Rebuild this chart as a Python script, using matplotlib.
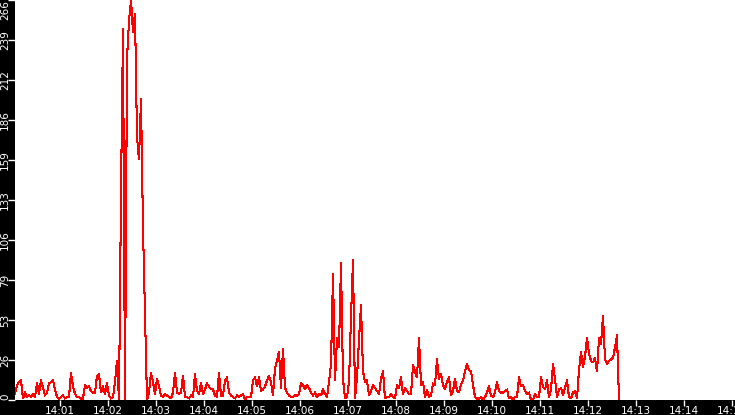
import numpy as np
import matplotlib
matplotlib.use("Agg")
import matplotlib.pyplot as plt

# one sample every 2.5 s, first one at 14:00:03.75 (seconds after 14:00)
start_sec = 3.75
step_sec = 2.5
values = [
    4, 10, 12, 13, 1, 5, 2, 3, 2, 4,
    2, 11, 4, 13, 8, 3, 5, 11, 12, 13,
    7, 2, 1, 2, 3, 1, 2, 2, 18, 9,
    4, 2, 2, 1, 1, 10, 8, 9, 6, 5,
    5, 16, 17, 5, 9, 4, 11, 3, 1, 2,
    12, 26, 0, 138, 247, 0, 227, 252, 266, 245,
    257, 175, 160, 200, 114, 57, 0, 5, 18, 12,
    4, 14, 9, 3, 2, 4, 3, 2, 1, 5,
    18, 5, 4, 5, 16, 2, 2, 1, 3, 2,
    17, 6, 4, 11, 4, 7, 11, 9, 7, 7,
    3, 2, 18, 3, 3, 13, 15, 5, 3, 2,
    1, 3, 2, 3, 4, 0, 2, 2, 2, 13,
    15, 9, 15, 6, 7, 9, 13, 16, 12, 3,
    21, 26, 32, 8, 34, 8, 5, 3, 2, 2,
    3, 3, 4, 11, 10, 7, 10, 8, 5, 3,
    5, 2, 4, 3, 7, 4, 2, 12, 24, 84,
    13, 41, 35, 91, 14, 1, 2, 12, 55, 93,
    1, 15, 40, 63, 19, 12, 13, 3, 6, 10,
    8, 6, 4, 14, 19, 1, 2, 2, 4, 2,
    1, 10, 8, 15, 4, 8, 6, 4, 4, 23,
    19, 15, 41, 10, 12, 2, 7, 2, 3, 11,
    10, 27, 14, 17, 10, 7, 12, 15, 3, 6,
    14, 6, 5, 10, 13, 19, 24, 20, 19, 10,
    2, 1, 1, 2, 0, 2, 5, 9, 3, 2,
    5, 12, 6, 5, 5, 6, 7, 1, 2, 0,
    2, 2, 15, 9, 10, 6, 4, 5, 0, 0,
    4, 2, 2, 15, 9, 7, 13, 2, 7, 24,
    14, 2, 7, 8, 3, 8, 13, 2, 1, 5,
    6, 1, 20, 32, 22, 29, 41, 31, 26, 25,
    28, 19, 41, 37, 56, 27, 24, 26, 27, 28,
    35, 43, 0,
]

x_tick_minutes = list(range(1, 16))
x_tick_labels = ["14:%02d" % m for m in x_tick_minutes]
y_max = 266
y_ticks = np.linspace(0, y_max, 11)
y_tick_labels = [str(int(v)) for v in y_ticks]

times = start_sec + step_sec * np.arange(len(values))

font = ["Liberation Sans Narrow", "DejaVu Sans"]

fig = plt.figure(figsize=(7.35, 4.15), dpi=100, facecolor="black")
ax = fig.add_axes([15 / 735, 15 / 415, 720 / 735, 400 / 415], facecolor="white")

ax.plot(times, values, color="red", lw=0.75, antialiased=False)

ax.set_xlim(start_sec, start_sec + 900)
ax.set_ylim(0, y_max)

for s in ax.spines.values():
    s.set_visible(False)

ax.set_xticks([m * 60 for m in x_tick_minutes])
ax.set_xticklabels(x_tick_labels, color="white", fontsize=7.5, family=font)
ax.tick_params(axis="x", colors="white", direction="out", length=4, width=1, pad=0)

# y labels drawn by hand so the end ones stay inside the figure
ax.set_yticks(y_ticks)
ax.set_yticklabels([])
ax.tick_params(axis="y", colors="white", direction="out", length=5, width=1)
for i, (v, lab) in enumerate(zip(y_ticks, y_tick_labels)):
    va = "center"
    if i == 0:
        va = "bottom"
    elif i == len(y_ticks) - 1:
        va = "top"
    ax.text(-5 / 720, v, lab, transform=ax.get_yaxis_transform(), rotation=90,
            ha="right", va=va, color="white", fontsize=7.5, family=font, clip_on=False)

fig.savefig("out.png", dpi=100, facecolor="black")
